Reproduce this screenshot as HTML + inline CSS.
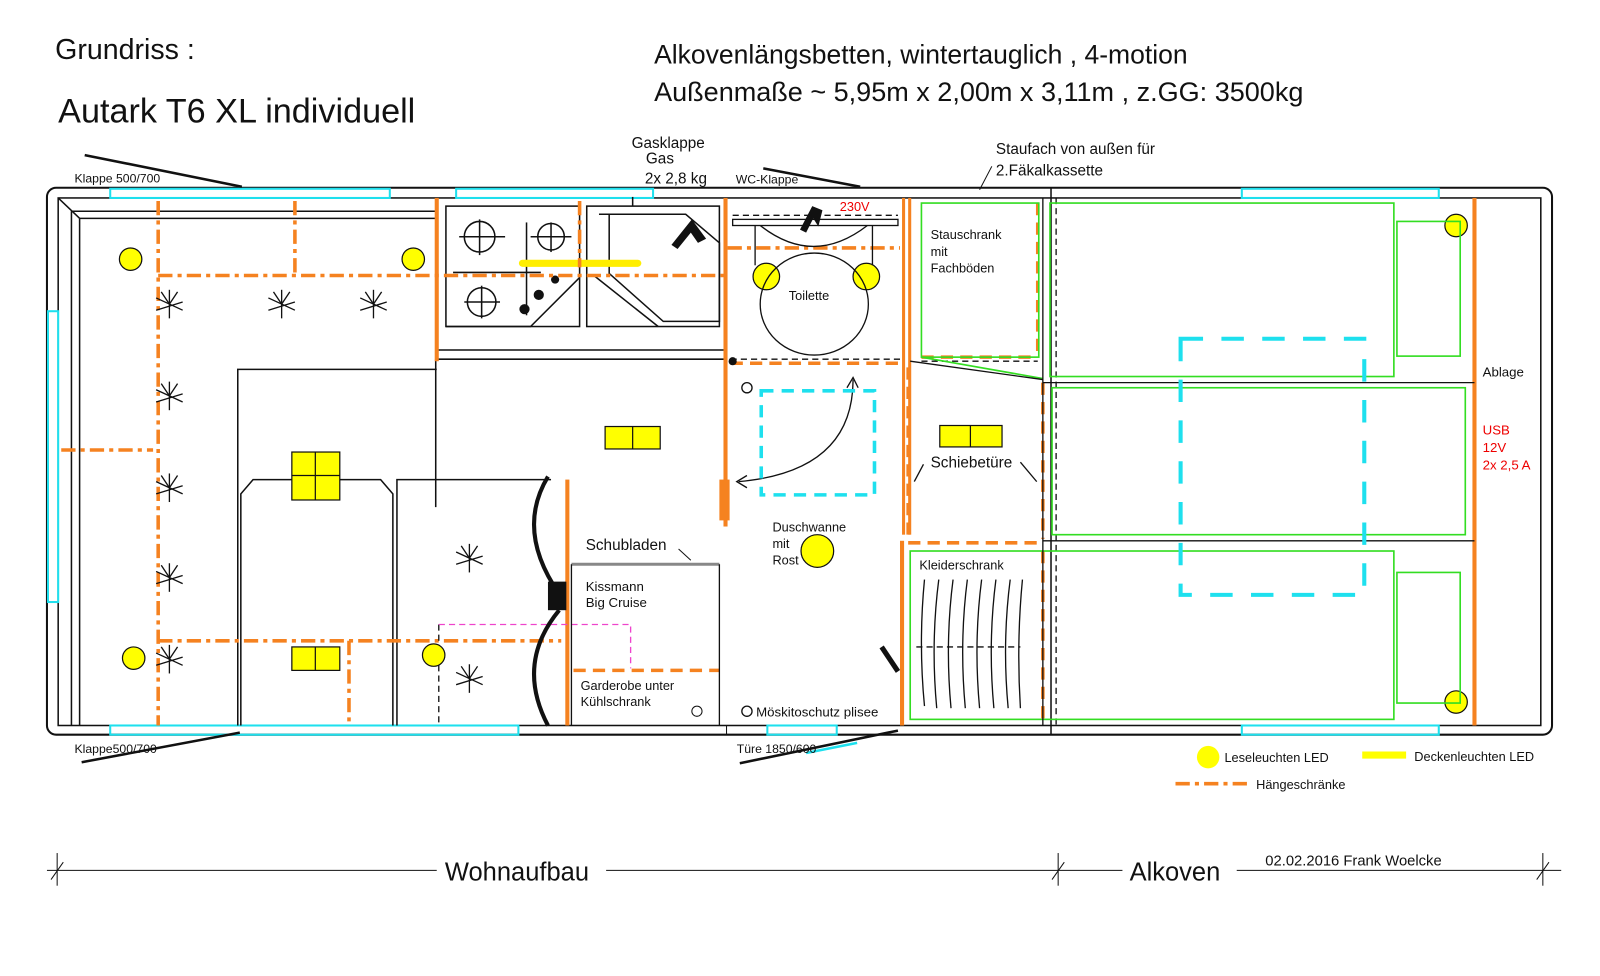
<!DOCTYPE html>
<html><head><meta charset="utf-8"><style>
html,body{margin:0;padding:0;background:#fff}
svg{display:block}
text{font-family:"Liberation Sans",sans-serif;fill:#111}
</style></head><body>
<svg width="1600" height="976" viewBox="0 0 1568 956.5" xmlns="http://www.w3.org/2000/svg">
<defs>
<g id="star" stroke="#111" stroke-width="1.3" fill="none">
<line x1="0" y1="-14" x2="0" y2="14"/><line x1="-13" y1="6" x2="13" y2="-2"/><line x1="-13" y1="-6" x2="13" y2="6"/>
<line x1="0" y1="0" x2="-8" y2="-12"/><line x1="0" y1="0" x2="8" y2="-12"/>
</g>
</defs>
<!-- titles -->
<text x="54" y="58" font-size="28">Grundriss  :</text>
<text x="57" y="120" font-size="33.5">Autark T6 XL individuell</text>
<text x="641" y="62" font-size="26">Alkovenlängsbetten, wintertauglich , 4-motion</text>
<text x="641" y="99" font-size="26.5">Außenmaße ~ 5,95m x 2,00m x 3,11m , z.GG: 3500kg</text>

<!-- outer -->
<rect x="46" y="184" width="1475" height="536" rx="9" fill="none" stroke="#111" stroke-width="2"/>
<rect x="57" y="194" width="1453" height="517" fill="none" stroke="#111" stroke-width="1.5"/>
<line x1="1030" y1="184" x2="1030" y2="720" stroke="#111" stroke-width="1.5"/>
<!-- windows cyan -->
<g stroke="#1ee0ee" stroke-width="2" fill="none">
<rect x="108" y="185" width="274" height="9"/>
<rect x="447" y="185" width="193" height="9"/>
<rect x="1217" y="185" width="193" height="9"/>
<rect x="47" y="305" width="10" height="285"/>
<rect x="108" y="711" width="400" height="9"/>
<rect x="752" y="711" width="68" height="9"/>
<rect x="1217" y="711" width="193" height="9"/>
</g>
<!-- left inner lines -->
<g stroke="#111" stroke-width="1.5" fill="none">
<line x1="70" y1="207" x2="70" y2="711"/><line x1="78" y1="214" x2="78" y2="711"/>
<line x1="70" y1="207" x2="428" y2="207"/><line x1="78" y1="214" x2="428" y2="214"/>
<line x1="57" y1="194" x2="78" y2="214"/>
<polyline points="233,711 233,362 428,362"/>
<polyline points="236,711 236,484 248,470 373,470 385,484 385,711"/>
<polyline points="389,711 389,470 540,470"/>
<line x1="427" y1="352" x2="427" y2="497"/>
<line x1="428" y1="343" x2="711" y2="343"/><line x1="428" y1="352" x2="711" y2="352"/>
<!-- stove -->
<rect x="437" y="202" width="131" height="118"/>
<circle cx="470" cy="232" r="15"/><circle cx="540" cy="232" r="13"/><circle cx="472" cy="296" r="14"/>
<line x1="450" y1="232" x2="495" y2="232"/><line x1="470" y1="215" x2="470" y2="250"/>
<line x1="520" y1="232" x2="560" y2="232"/><line x1="540" y1="218" x2="540" y2="247"/>
<line x1="455" y1="296" x2="490" y2="296"/><line x1="472" y1="280" x2="472" y2="312"/>
<line x1="444" y1="267" x2="530" y2="267"/><line x1="516" y1="218" x2="516" y2="309"/>
<!-- sink -->
<polyline points="437,320 520,320 568,272"/>
<rect x="575" y="202" width="130" height="118"/>
<polygon points="587,210 672,210 705,238 705,315 650,315 597,268 597,210" />
<polyline points="582,270 645,320"/>
<line x1="620" y1="193" x2="620" y2="202"/>
</g>
<g fill="#111"><circle cx="544" cy="274" r="4"/><circle cx="528" cy="289" r="5"/><circle cx="514" cy="303" r="5"/>
<polygon points="658,240 678,215 692,234 684,238 677,228 664,244"/></g>
<line x1="512" y1="258" x2="625" y2="258" stroke="#ffee00" stroke-width="7" stroke-linecap="round"/>

<!-- walls orange -->
<g fill="#f58220">
<rect x="426" y="194" width="4" height="160"/>
<rect x="709" y="194" width="4" height="322"/>
<rect x="705" y="470" width="10" height="40"/>
<rect x="554" y="470" width="4" height="241"/>
<rect x="884" y="194" width="3" height="330"/><rect x="890" y="194" width="3" height="330"/>
<rect x="882" y="530" width="4" height="181"/>
<rect x="1443" y="194" width="4" height="517"/>
</g>
<!-- dashdot orange -->
<g stroke="#f58220" stroke-width="3.5" fill="none" stroke-dasharray="14,5,4,5">
<line x1="155" y1="197" x2="155" y2="711"/>
<line x1="155" y1="270" x2="710" y2="270"/>
<line x1="289" y1="197" x2="289" y2="270"/>
<line x1="60" y1="441" x2="150" y2="441"/>
<line x1="155" y1="628" x2="550" y2="628"/>
<line x1="342" y1="628" x2="342" y2="711"/>
<line x1="568" y1="197" x2="568" y2="262"/>
<line x1="713" y1="243" x2="882" y2="243"/>
</g>
<g stroke="#f58220" stroke-width="3.5" fill="none" stroke-dasharray="12,7">
<line x1="716" y1="356" x2="884" y2="356"/>
<line x1="1017" y1="199" x2="1017" y2="350"/>
<line x1="903" y1="350" x2="1017" y2="350"/>
<line x1="890" y1="360" x2="890" y2="528"/>
<line x1="1022" y1="375" x2="1022" y2="528"/>
<line x1="890" y1="532" x2="1022" y2="532"/>
<line x1="1022" y1="540" x2="1022" y2="711"/>
<line x1="562" y1="657" x2="705" y2="657"/>
</g>
<!-- black dashed -->
<g stroke="#111" stroke-width="1.3" fill="none" stroke-dasharray="6,4">
<line x1="1035" y1="194" x2="1035" y2="711"/>
<line x1="716" y1="352" x2="884" y2="352"/>
<line x1="903" y1="354" x2="1017" y2="354"/>
<line x1="430" y1="612" x2="430" y2="711"/>
<line x1="718" y1="211" x2="880" y2="211"/>
<line x1="898" y1="634" x2="1000" y2="634"/>
</g>
<polyline points="430,612 618,612 618,655" stroke="#ee44cc" stroke-width="1.3" fill="none" stroke-dasharray="6,4"/>

<!-- door curves -->
<g stroke="#111" stroke-width="4" fill="none">
<path d="M537,467 Q505,520 548,582"/><path d="M548,598 Q505,650 537,711"/>
</g>
<rect x="537" y="570" width="18" height="28" fill="#111"/>

<!-- kitchen text -->
<line x1="560" y1="553" x2="705" y2="553" stroke="#888" stroke-width="3"/>
<line x1="560" y1="553" x2="560" y2="711" stroke="#111" stroke-width="1.3"/>
<line x1="705" y1="553" x2="705" y2="711" stroke="#111" stroke-width="1.3"/>
<line x1="665" y1="538" x2="677" y2="549" stroke="#111"/>
<text x="574" y="539" font-size="15">Schubladen</text>
<text x="574" y="579" font-size="13">Kissmann</text>
<text x="574" y="595" font-size="13">Big Cruise</text>
<text x="569" y="676" font-size="12.5">Garderobe unter</text>
<text x="569" y="692" font-size="12.5">Kühlschrank</text>
<circle cx="683" cy="697" r="5" fill="none" stroke="#111"/>

<!-- yellow lights -->
<g fill="#ffff00" stroke="#111" stroke-width="1.2">
<circle cx="128" cy="254" r="11"/><circle cx="405" cy="254" r="11"/><circle cx="131" cy="645" r="11"/><circle cx="425" cy="642" r="11"/>
<circle cx="751" cy="271" r="13"/><circle cx="849" cy="271" r="13"/><circle cx="801" cy="540" r="16"/>
<circle cx="1427" cy="221" r="11"/><circle cx="1427" cy="688" r="11"/>
<rect x="286" y="443" width="47" height="47"/><line x1="309" y1="443" x2="309" y2="490"/><line x1="286" y1="466" x2="333" y2="466"/>
<rect x="286" y="634" width="47" height="23"/><line x1="309" y1="634" x2="309" y2="657"/>
<rect x="593" y="418" width="54" height="22"/><line x1="620" y1="418" x2="620" y2="440"/>
<rect x="921" y="417" width="61" height="21"/><line x1="951" y1="417" x2="951" y2="438"/>
</g>
<g>
<use href="#star" x="166" y="298"/><use href="#star" x="276" y="298"/><use href="#star" x="366" y="298"/>
<use href="#star" x="166" y="388"/><use href="#star" x="166" y="478"/><use href="#star" x="166" y="566"/>
<use href="#star" x="166" y="646"/><use href="#star" x="460" y="547"/><use href="#star" x="460" y="665"/>
</g>

<!-- bathroom -->
<g stroke="#111" stroke-width="1.3" fill="none">
<rect x="718" y="215" width="162" height="6"/>
<path d="M745,221 Q797,262 850,221"/>
<line x1="740" y1="221" x2="740" y2="260"/><line x1="855" y1="221" x2="855" y2="260"/>
<ellipse cx="798" cy="298" rx="53" ry="50"/>
<circle cx="732" cy="380" r="5"/>
<path d="M836,372 Q836,462 724,472"/>
<polyline points="830,380 836,370 841,380"/><polyline points="732,466 722,472 732,478"/>
<circle cx="732" cy="697" r="5"/>
</g>
<g fill="#111"><circle cx="718" cy="354" r="4"/>
<polygon points="784,225 796,202 806,206 802,222 797,214 790,228"/></g>
<line x1="864" y1="634" x2="880" y2="658" stroke="#111" stroke-width="5"/>
<rect x="746" y="383" width="111" height="102" fill="none" stroke="#1ee0ee" stroke-width="3.5" stroke-dasharray="12,8"/>
<text x="773" y="294" font-size="12.5">Toilette</text>
<text x="823" y="207" font-size="12.5" style="fill:#e00">230V</text>
<text x="757" y="521" font-size="12.5">Duschwanne</text>
<text x="757" y="537" font-size="12.5">mit</text>
<text x="757" y="553" font-size="12.5">Rost</text>
<text x="741" y="702" font-size="13">Möskitoschutz plisee</text>
<line x1="712" y1="711" x2="712" y2="720" stroke="#111"/>

<!-- storage -->
<g stroke="#33dd22" stroke-width="1.6" fill="none">
<rect x="903" y="199" width="115" height="151"/>
<line x1="903" y1="350" x2="1022" y2="371"/>
<rect x="1029" y="199" width="337" height="170"/>
<rect x="1369" y="217" width="62" height="132"/>
<rect x="1031" y="380" width="405" height="144"/>
<rect x="892" y="540" width="474" height="165"/>
<rect x="1369" y="561" width="62" height="128"/>
</g>
<g stroke="#111" stroke-width="1.3" fill="none">
<line x1="892" y1="354" x2="1022" y2="372"/>
<line x1="1022" y1="375" x2="1445" y2="375"/>
<line x1="1022" y1="530" x2="1445" y2="530"/>
<line x1="1022" y1="194" x2="1022" y2="711"/>
<line x1="905" y1="455" x2="896" y2="472"/><line x1="1000" y1="453" x2="1016" y2="472"/>
<path d="M906,568 Q900,630 906,692"/><path d="M920,568 Q912,630 918,694"/><path d="M934,568 Q926,630 932,694"/>
<path d="M948,568 Q940,630 946,694"/><path d="M962,568 Q954,630 960,694"/><path d="M976,568 Q968,630 974,694"/><path d="M990,568 Q982,630 988,694"/><path d="M1002,568 Q996,630 1000,694"/>
</g>
<text x="912" y="234" font-size="12.5">Stauschrank</text>
<text x="912" y="251" font-size="12.5">mit</text>
<text x="912" y="267" font-size="12.5">Fachböden</text>
<text x="912" y="458" font-size="15">Schiebetüre</text>
<text x="901" y="558" font-size="12.5">Kleiderschrank</text>

<!-- alcove -->
<rect x="1157" y="332" width="180" height="251" fill="none" stroke="#1ee0ee" stroke-width="4" stroke-dasharray="22,18"/>
<text x="1453" y="369" font-size="13">Ablage</text>
<text x="1453" y="426" font-size="13" style="fill:#e00">USB</text>
<text x="1453" y="443" font-size="13" style="fill:#e00">12V</text>
<text x="1453" y="460" font-size="13" style="fill:#e00">2x 2,5 A</text>

<!-- annotations -->
<g stroke="#111" stroke-width="2.5">
<line x1="83" y1="152" x2="237" y2="183"/><line x1="80" y1="747" x2="235" y2="718"/>
<line x1="748" y1="165" x2="843" y2="183"/><line x1="725" y1="748" x2="880" y2="716"/>
</g>
<line x1="790" y1="738" x2="840" y2="728" stroke="#1ee0ee" stroke-width="2.5"/>
<line x1="972" y1="163" x2="960" y2="186" stroke="#111"/>
<text x="73" y="179" font-size="12">Klappe 500/700</text>
<text x="73" y="738" font-size="12">Klappe500/700</text>
<text x="619" y="145" font-size="15">Gasklappe</text>
<text x="633" y="160" font-size="15">Gas</text>
<text x="632" y="180" font-size="15">2x 2,8 kg</text>
<text x="721" y="180" font-size="12">WC-Klappe</text>
<text x="722" y="738" font-size="12">Türe 1850/600</text>
<text x="976" y="151" font-size="15">Staufach von außen für</text>
<text x="976" y="172" font-size="15">2.Fäkalkassette</text>

<!-- legend -->
<circle cx="1184" cy="742" r="11" fill="#ffff00"/>
<text x="1200" y="747" font-size="12.5">Leseleuchten LED</text>
<line x1="1335" y1="740" x2="1378" y2="740" stroke="#ffff00" stroke-width="7"/>
<text x="1386" y="746" font-size="12.5">Deckenleuchten LED</text>
<line x1="1152" y1="768" x2="1226" y2="768" stroke="#f58220" stroke-width="3.5" stroke-dasharray="14,5,4,5"/>
<text x="1231" y="773" font-size="12.5">Hängeschränke</text>

<!-- dimension line -->
<g stroke="#111" stroke-width="1">
<line x1="46" y1="853" x2="428" y2="853"/><line x1="594" y1="853" x2="1100" y2="853"/>
<line x1="1212" y1="853" x2="1530" y2="853"/>
<line x1="56" y1="836" x2="56" y2="868"/><line x1="1037" y1="836" x2="1037" y2="868"/><line x1="1512" y1="836" x2="1512" y2="868"/>
<line x1="50" y1="862" x2="62" y2="845"/><line x1="1031" y1="862" x2="1043" y2="845"/><line x1="1506" y1="862" x2="1518" y2="845"/>
</g>
<text x="436" y="863" font-size="25">Wohnaufbau</text>
<text x="1107" y="863" font-size="25">Alkoven</text>
<text x="1240" y="848" font-size="14.5">02.02.2016  Frank Woelcke</text>
</svg>
</body></html>
